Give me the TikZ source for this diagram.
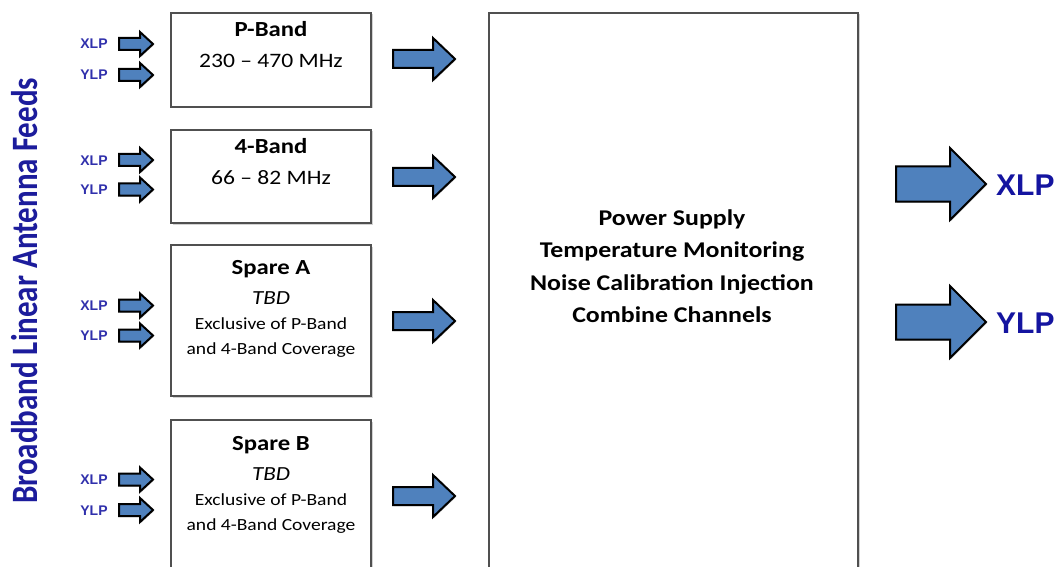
\documentclass[tikz,border=0pt]{standalone}
\usepackage{fontspec}
\setmainfont{Carlito}[FakeStretch=1.15]
\newfontfamily\plaincal{Carlito}
\newfontfamily\arialf{Liberation Sans}
\usetikzlibrary{shadows}
\definecolor{arrowblue}{HTML}{4F81BD}
\definecolor{labblue}{HTML}{3030AC}
\definecolor{bigblue}{HTML}{1414A0}
\definecolor{feedblue}{HTML}{1C1C9C}
\definecolor{boxline}{HTML}{505050}
% name, x0, yc, x-head, x-tip, shaft half, head half
\newcommand{\blkarrow}[7]{%
  \draw[blockarr] ({#2},{#3-#6}) -- ({#4},{#3-#6}) -- ({#4},{#3-#7}) -- ({#5},{#3})
    -- ({#4},{#3+#7}) -- ({#4},{#3+#6}) -- ({#2},{#3+#6}) -- cycle;
  \coordinate (#1) at ({#5},{#3});}
\tikzset{
  bandbox/.style={draw=boxline, line width=1.3pt, fill=white, rectangle, inner sep=0pt,
    drop shadow={shadow xshift=1.5pt,shadow yshift=-1.5pt,opacity=0.35}},
  blockarr/.style={fill=arrowblue, draw=black, line width=2pt, line join=miter,
    drop shadow={shadow xshift=1pt,shadow yshift=-1pt,opacity=0.45}},
  bandtitle/.style={anchor=base, inner sep=0pt, font=\fontsize{21.5}{24}\selectfont\bfseries},
  bandsub/.style={anchor=base, inner sep=0pt, font=\fontsize{20.5}{24}\selectfont},
  sparetxt/.style={anchor=base, inner sep=0pt, font=\fontsize{17}{20}\selectfont},
  sparetbd/.style={anchor=base, inner sep=0pt, font=\fontsize{20}{22}\selectfont\itshape},
  maintxt/.style={anchor=base, inner sep=0pt, font=\fontsize{22.5}{26}\selectfont\bfseries},
  smalllab/.style={anchor=base, inner sep=0pt, text=labblue, font=\arialf\fontsize{14}{16}\selectfont\bfseries},
  biglab/.style={anchor=base west, inner sep=0pt, text=bigblue, font=\arialf\fontsize{30}{32}\selectfont\bfseries},
}
\begin{document}
\begin{tikzpicture}[x=1pt,y=-1pt]
\clip (0,0) rectangle (1058,567);
\fill[white] (0,0) rectangle (1058,567);

% vertical title
\node[rotate=90, anchor=base, inner sep=0pt, text=feedblue,
  font=\plaincal\fontsize{31}{34}\selectfont\bfseries] (feeds) at (37,291)
  {\scalebox{1}[1.2]{Broadband Linear Antenna Feeds}};

% boxes
\node[bandbox, minimum width=200pt, minimum height=94pt] (pband) at (271,60) {};
\node[bandbox, minimum width=200pt, minimum height=93pt] (fband) at (271,176.5) {};
\node[bandbox, minimum width=200pt, minimum height=151pt] (sparea) at (271,320.5) {};
\node[bandbox, minimum width=200pt, minimum height=180pt] (spareb) at (271,510) {};
\node[bandbox, minimum width=369pt, minimum height=590pt] (main) at (673.5,308) {};

% box texts
\node[bandtitle] (pbt) at (271,37) {P-Band};
\node[bandsub] (pbs) at (271,68) {230 – 470 MHz};
\node[bandtitle] (fbt) at (271,154) {4-Band};
\node[bandsub] (fbs) at (271,185) {66 – 82 MHz};
\node[bandtitle] (sat) at (271,274) {Spare A};
\node[sparetbd] (sab) at (271,304) {TBD};
\node[sparetxt] (sa1) at (271,329) {Exclusive of P-Band};
\node[sparetxt] (sa2) at (271,354) {and 4-Band Coverage};
\node[bandtitle] (sbt) at (271,450) {Spare B};
\node[sparetbd] (sbb) at (271,480) {TBD};
\node[sparetxt] (sb1) at (271,505) {Exclusive of P-Band};
\node[sparetxt] (sb2) at (271,530) {and 4-Band Coverage};

\node[maintxt] (m1) at (672,225) {Power Supply};
\node[maintxt] (m2) at (672,257) {Temperature Monitoring};
\node[maintxt] (m3) at (672,290) {Noise Calibration Injection};
\node[maintxt] (m4) at (672,322) {Combine Channels};

% small input arrows and labels
\foreach \n/\c/\t in {px/44/XLP, py/75/YLP, fx/160/XLP, fy/189.5/YLP,
                      ax/305.5/XLP, ay/335.5/YLP, bx/479.5/XLP, by/510/YLP}{
  \blkarrow{in\n}{119}{\c}{140}{153}{6}{12}
  \node[smalllab] (lab\n) at (94,\c+5) {\t};
}

% medium arrows toward main box
\foreach \n/\c in {p/59, f/177, a/321, b/496}{
  \blkarrow{mid\n}{393}{\c}{433}{455}{9}{21}
}

% output arrows
\blkarrow{outx}{896}{184}{950}{986}{17.5}{36}
\blkarrow{outy}{896}{322}{950}{986}{17.5}{36}
\node[biglab] (xlp) at (996,195) {XLP};
\node[biglab] (ylp) at (996,333) {YLP};
\end{tikzpicture}
\end{document}
